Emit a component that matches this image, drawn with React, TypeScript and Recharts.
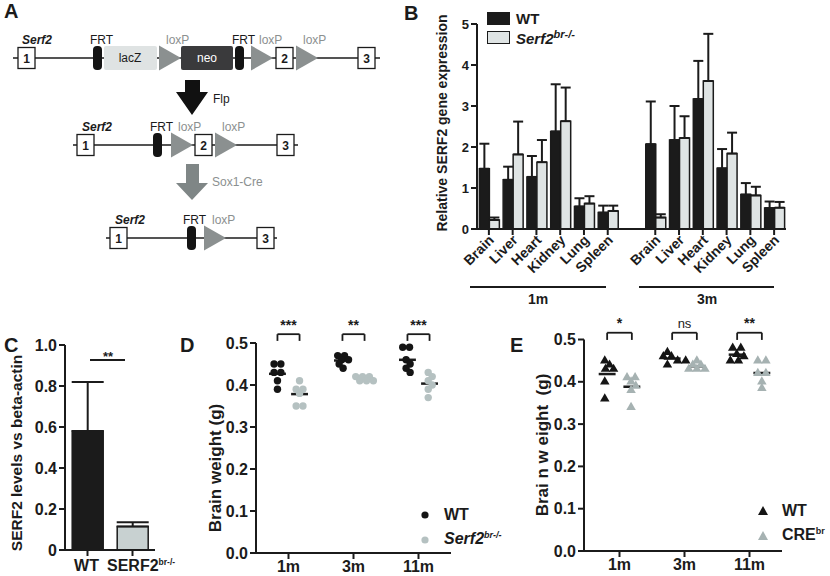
import React from 'react';
import {
  Bar,
  BarChart,
  Cell,
  ErrorBar,
  Legend,
  ReferenceDot,
  ReferenceLine,
  Scatter,
  ScatterChart,
  XAxis,
  YAxis,
} from 'recharts';

const FONT = '"Liberation Sans", Arial, Helvetica, sans-serif';
const INK = '#1b1b1b';
const GREY = '#8b9090';

// ---------- B: relative SERF2 expression per tissue
const tissues = ['Brain', 'Liver', 'Heart', 'Kidney', 'Lung', 'Spleen'];
const exprAges = ['1m', '3m'];
const wtExpr = [
  [1.47, 1.2, 1.27, 2.38, 0.55, 0.4],
  [2.07, 2.17, 3.17, 1.48, 0.84, 0.51],
];
const wtExprTop = [
  [2.08, 1.52, 1.78, 3.53, 0.75, 0.57],
  [3.11, 3.0, 4.1, 1.95, 1.12, 0.67],
];
const koExpr = [
  [0.22, 1.82, 1.63, 2.63, 0.62, 0.44],
  [0.28, 2.22, 3.61, 1.84, 0.82, 0.52],
];
const koExprTop = [
  [0.28, 2.62, 2.17, 3.45, 0.8, 0.57],
  [0.36, 2.75, 4.76, 2.35, 1.03, 0.66],
];
const exprTicks = [0, 1, 2, 3, 4, 5];

// ---------- C: SERF2 / beta-actin
const levelGroups = ['WT', 'SERF2'];
const levelValues = [0.58, 0.115];
const levelTop = [0.82, 0.135];
const levelTicks = [0, 0.2, 0.4, 0.6, 0.8, 1.0];

// ---------- D / E: brain weight
const weightAges = ['1m', '3m', '11m'];
const weightTicks = [0, 0.1, 0.2, 0.3, 0.4, 0.5];
const dWt = [
  [0.45, 0.45, 0.43, 0.43, 0.41, 0.39],
  [0.47, 0.47, 0.46, 0.46, 0.45, 0.44],
  [0.49, 0.49, 0.46, 0.45, 0.44, 0.43],
];
const dKo = [
  [0.41, 0.39, 0.39, 0.38, 0.35, 0.35],
  [0.42, 0.42, 0.42, 0.41, 0.41, 0.41],
  [0.43, 0.42, 0.41, 0.4, 0.39, 0.37],
];
const dStars = ['***', '**', '***'];
const eWt = [
  [0.45, 0.44, 0.43, 0.43, 0.4, 0.36],
  [0.47, 0.46, 0.46, 0.45, 0.45, 0.44],
  [0.48, 0.48, 0.465, 0.46, 0.45, 0.45],
];
const eKo = [
  [0.41, 0.41, 0.4, 0.39, 0.38, 0.34],
  [0.45, 0.44, 0.44, 0.43, 0.43, 0.43],
  [0.45, 0.45, 0.42, 0.42, 0.4, 0.385],
];
const eStars = ['*', 'ns', '**'];

// rows for panel B, with an empty slot between the two ages
const exprRows: any[] = [];
exprAges.forEach((age, a) => {
  if (a > 0) exprRows.push({ key: 'gap', label: '' });
  tissues.forEach((t, i) =>
    exprRows.push({
      key: `${age}-${t}`,
      label: t,
      wt: wtExpr[a][i],
      wtErr: [0, wtExprTop[a][i] - wtExpr[a][i]],
      ko: koExpr[a][i],
      koErr: [0, koExprTop[a][i] - koExpr[a][i]],
    }),
  );
});
const exprLabel: Record<string, string> = {};
exprRows.forEach((r) => (exprLabel[r.key] = r.label));

const levelRows = levelGroups.map((g, i) => ({
  grp: g,
  val: levelValues[i],
  err: [0, levelTop[i] - levelValues[i]],
}));

// simple beeswarm in pixel space: equal values share a centred row,
// rows slide sideways until they no longer overlap too much
function swarm(values: number[], center: number, d: number, pxX: number, pxY: number) {
  const rows = [...new Set(values)].sort((a, b) => b - a);
  const placed: { x: number; y: number }[] = [];
  const gap = d * 0.85;
  rows.forEach((v) => {
    const n = values.filter((w) => w === v).length;
    const base = Array.from({ length: n }, (_, k) => (k - (n - 1) / 2) * gap);
    const yp = v * pxY;
    for (let j = 0; j < 24; j++) {
      const t = j === 0 ? 0 : (j % 2 ? 1 : -1) * Math.ceil(j / 2) * (d / 4);
      const xs = base.map((b) => b + t);
      const ok = xs.every((x) => placed.every((p) => Math.hypot(p.x - x, p.y - yp) >= d * 0.6));
      if (ok || j === 23) {
        xs.forEach((x) => placed.push({ x, y: yp }));
        break;
      }
    }
  });
  const mx = placed.reduce((s, p) => s + p.x, 0) / placed.length;
  return placed.map((p) => ({ x: center + (p.x - mx) / pxX, y: p.y / pxY }));
}
const mean = (v: number[]) => v.reduce((s, x) => s + x, 0) / v.length;

const bold = { fontFamily: FONT, fontWeight: 700, fill: INK } as const;

function OrganTick(props: any) {
  const { x, y, payload } = props;
  const label = exprLabel[payload.value];
  if (!label) return null;
  const ax = x + 6;
  const ay = y + 12;
  return (
    <g>
      <line x1={x} x2={x} y1={y} y2={y + 6} stroke={INK} strokeWidth={2} />
      <text x={ax} y={ay} transform={`rotate(-45 ${ax} ${ay})`} textAnchor="end" fontSize={14} {...bold}>
        {label}
      </text>
    </g>
  );
}

function LevelTick(props: any) {
  const { x, y, payload } = props;
  if (payload.value === 'SERF2') {
    return (
      <text x={x - 25.5} y={y + 13} fontSize={16} {...bold}>
        SERF2
        <tspan dy={-6} fontSize={8.5}>
          br-/-
        </tspan>
      </text>
    );
  }
  return (
    <text x={x - 1} y={y + 13} textAnchor="middle" fontSize={16} {...bold}>
      {payload.value}
    </text>
  );
}

function ExpressionLegend() {
  const items = [
    { fill: INK, name: 'WT', sup: '', italic: false },
    { fill: '#dfe4e4', name: 'Serf2', sup: 'br-/-', italic: true },
  ];
  return (
    <div style={{ fontFamily: FONT, fontWeight: 700, fontSize: 15, color: INK }}>
      {items.map((it) => (
        <div key={it.name} style={{ display: 'flex', alignItems: 'center', height: 19 }}>
          <span
            style={{
              width: 21,
              height: 11,
              background: it.fill,
              border: `1.5px solid ${INK}`,
              marginRight: 6,
            }}
          />
          <span style={{ fontStyle: it.italic ? 'italic' : 'normal' }}>
            {it.name}
            {it.sup && <sup style={{ fontSize: 11 }}>{it.sup}</sup>}
          </span>
        </div>
      ))}
    </div>
  );
}

function ExpressionChart() {
  return (
    <BarChart
      width={410}
      height={330}
      data={exprRows}
      margin={{ top: 24, right: 44, bottom: 0, left: 0 }}
      barCategoryGap="10%"
      barGap={0}
    >
      <XAxis
        dataKey="key"
        interval={0}
        height={101}
        tickSize={0}
        tickMargin={0}
        tickLine={false}
        tick={<OrganTick />}
        axisLine={{ stroke: INK, strokeWidth: 2 }}
      />
      <YAxis
        width={57}
        domain={[0, 5]}
        ticks={exprTicks}
        tickSize={6}
        tickLine={{ stroke: INK, strokeWidth: 2 }}
        axisLine={{ stroke: INK, strokeWidth: 2 }}
        tick={{ fontSize: 13, ...bold }}
      />
      <Legend
        content={() => <ExpressionLegend />}
        layout="horizontal"
        verticalAlign="middle"
        align="center"
        wrapperStyle={{ left: 67, top: 9, width: 'auto' }}
      />
      <Bar dataKey="wt" fill={INK} stroke={INK} strokeWidth={1.5} isAnimationActive={false}>
        <ErrorBar dataKey="wtErr" width={5} stroke={INK} strokeWidth={2} isAnimationActive={false} />
      </Bar>
      <Bar dataKey="ko" fill="#dfe4e4" stroke={INK} strokeWidth={1.5} isAnimationActive={false}>
        <ErrorBar dataKey="koErr" width={5} stroke={INK} strokeWidth={2} isAnimationActive={false} />
      </Bar>
    </BarChart>
  );
}

function LevelChart() {
  const fills = [INK, '#c8d1d1'];
  return (
    <BarChart
      width={200}
      height={246}
      data={levelRows}
      margin={{ top: 15, right: 45, bottom: 0, left: 0 }}
      barCategoryGap="16%"
    >
      <XAxis
        dataKey="grp"
        height={26}
        interval={0}
        tickSize={6}
        tickLine={{ stroke: INK, strokeWidth: 2 }}
        axisLine={{ stroke: INK, strokeWidth: 2 }}
        tick={<LevelTick />}
      />
      <YAxis
        width={65}
        domain={[0, 1]}
        ticks={levelTicks}
        tickFormatter={(v: number) => (v === 0 ? '0' : v.toFixed(1))}
        tickSize={6}
        tickLine={{ stroke: INK, strokeWidth: 2 }}
        axisLine={{ stroke: INK, strokeWidth: 2 }}
        tick={{ fontSize: 16, ...bold }}
      />
      <Bar dataKey="val" stroke={INK} strokeWidth={1.5} isAnimationActive={false}>
        {levelRows.map((r, i) => (
          <Cell key={r.grp} fill={fills[i]} />
        ))}
        <ErrorBar dataKey="err" width={16} stroke={INK} strokeWidth={2} isAnimationActive={false} />
      </Bar>
    </BarChart>
  );
}

type Series = { name: string; sup: string; italic: boolean; color: string };

function WeightLegend({ series, marker }: { series: Series[]; marker: 'dot' | 'tri' }) {
  return (
    <div style={{ fontFamily: FONT, fontWeight: 700, fontSize: 16, color: INK }}>
      {series.map((s) => (
        <div key={s.name} style={{ display: 'flex', alignItems: 'center', height: 25 }}>
          <svg width={22} height={12} style={{ marginRight: 3 }}>
            {marker === 'dot' ? (
              <circle cx={6} cy={6} r={3.6} fill={s.color} />
            ) : (
              <polygon points="6,1 11,10 1,10" fill={s.color} />
            )}
          </svg>
          <span style={{ fontStyle: s.italic ? 'italic' : 'normal' }}>
            {s.name}
            {s.sup && <sup style={{ fontSize: 9 }}>{s.sup}</sup>}
          </span>
        </div>
      ))}
    </div>
  );
}

function WeightChart(props: {
  wt: number[][];
  ko: number[][];
  stars: string[];
  series: Series[];
  marker: 'dot' | 'tri';
  shift: number;
  dot: number;
  width: number;
  axisW: number;
  top: number;
  bottom: number;
  padLeft: number;
  legendPos: { left: number; top: number };
  bracket: [number, number];
}) {
  const { wt, ko, stars, series, marker, shift, dot, width, axisW, top, bottom, padLeft, legendPos, bracket } = props;
  const plotW = 195;
  const pxX = plotW / 3;
  const pxY = (266 - top - bottom) / 0.5;
  const centers = weightAges.map((_, i) => i + 0.5);
  const wtPts = centers.flatMap((c, i) => swarm(wt[i], c - shift, dot, pxX, pxY));
  const koPts = centers.flatMap((c, i) => swarm(ko[i], c + shift, dot, pxX, pxY));
  const shape = (p: any) => {
    if (marker === 'dot') return <circle cx={p.cx} cy={p.cy} r={3.7} fill={p.fill} />;
    const s = 9.5;
    const h = s * 0.866;
    return (
      <polygon
        points={`${p.cx},${p.cy - (h * 2) / 3} ${p.cx - s / 2},${p.cy + h / 3} ${p.cx + s / 2},${p.cy + h / 3}`}
        fill={p.fill}
      />
    );
  };
  const lines: { a: { x: number; y: number }; b: { x: number; y: number }; w: number }[] = [];
  centers.forEach((c, i) => {
    const mw = mean(wt[i]);
    const mk = mean(ko[i]);
    lines.push({ a: { x: c - shift - 0.13, y: mw }, b: { x: c - shift + 0.13, y: mw }, w: 2.5 });
    lines.push({ a: { x: c + shift - 0.13, y: mk }, b: { x: c + shift + 0.13, y: mk }, w: 2.5 });
    const [yTop, yLeg] = bracket;
    const l = c - shift;
    const r = c + shift;
    lines.push({ a: { x: l, y: yTop }, b: { x: r, y: yTop }, w: 1.8 });
    lines.push({ a: { x: l, y: yTop }, b: { x: l, y: yLeg }, w: 1.8 });
    lines.push({ a: { x: r, y: yTop }, b: { x: r, y: yLeg }, w: 1.8 });
  });
  return (
    <ScatterChart width={width} height={266} margin={{ top, right: width - axisW - plotW - padLeft, bottom: 0, left: 0 }}>
      <XAxis
        type="number"
        dataKey="x"
        domain={[0, 3]}
        ticks={centers}
        padding={{ left: padLeft, right: 0 }}
        tickFormatter={(v: number) => weightAges[Math.floor(v)]}
        height={bottom}
        tickSize={6}
        tickLine={{ stroke: INK, strokeWidth: 2 }}
        axisLine={{ stroke: INK, strokeWidth: 2 }}
        tick={{ fontSize: 16, ...bold }}
      />
      <YAxis
        type="number"
        dataKey="y"
        width={axisW}
        domain={[0, 0.5]}
        ticks={weightTicks}
        tickFormatter={(v: number) => v.toFixed(1)}
        tickSize={6}
        tickLine={{ stroke: INK, strokeWidth: 2 }}
        axisLine={{ stroke: INK, strokeWidth: 2 }}
        tick={{ fontSize: 16, ...bold }}
      />
      <Legend
        content={() => <WeightLegend series={series} marker={marker} />}
        layout="horizontal"
        verticalAlign="middle"
        align="center"
        wrapperStyle={{ left: legendPos.left, top: legendPos.top, width: 'auto' }}
      />
      <Scatter data={wtPts} fill={series[0].color} shape={shape} isAnimationActive={false} />
      <Scatter data={koPts} fill={series[1].color} shape={shape} isAnimationActive={false} />
      {lines.map((ln, i) => (
        <ReferenceLine key={i} segment={[ln.a, ln.b]} stroke={INK} strokeWidth={ln.w} ifOverflow="visible" />
      ))}
      {centers.map((c, i) => (
        <ReferenceDot
          key={`s${i}`}
          x={c}
          y={bracket[0] + 0.022}
          r={0}
          fill="none"
          stroke="none"
          ifOverflow="visible"
          label={{
            value: stars[i],
            position: 'center',
            fill: INK,
            fontSize: stars[i] === 'ns' ? 13 : 14,
            fontWeight: stars[i] === 'ns' ? 400 : 700,
            fontFamily: FONT,
          }}
        />
      ))}
    </ScatterChart>
  );
}

// ---------- A: targeting scheme (plain drawing)
function Exon({ x, y, n }: { x: number; y: number; n: string }) {
  return (
    <g>
      <rect x={x} y={y - 10.5} width={17} height={21} fill="#fff" stroke={INK} strokeWidth={1.3} />
      <text x={x + 8.5} y={y + 4.5} textAnchor="middle" fontSize={12} fontWeight={700}>
        {n}
      </text>
    </g>
  );
}
const Frt = ({ x, y }: { x: number; y: number }) => (
  <rect x={x} y={y - 12} width={9} height={24} rx={4} fill="#141414" />
);
const Lox = ({ x, y }: { x: number; y: number }) => (
  <polygon points={`${x},${y - 12.5} ${x + 22},${y} ${x},${y + 12.5}`} fill={GREY} />
);
const Tag = ({ x, y, t, grey }: { x: number; y: number; t: string; grey?: boolean }) => (
  <text x={x} y={y} fontSize={12} fill={grey ? GREY : INK}>
    {t}
  </text>
);
const Gene = ({ x, y }: { x: number; y: number }) => (
  <text x={x} y={y} fontSize={12} fontWeight={700} fontStyle="italic">
    Serf2
  </text>
);

function Scheme() {
  return (
    <svg width={420} height={300} style={{ position: 'absolute', left: 0, top: 0 }} fontFamily={FONT} fill={INK}>
      {/* row 1 */}
      <line x1={13} x2={380} y1={58} y2={58} stroke={INK} strokeWidth={1.3} />
      <Gene x={22} y={44} />
      <Exon x={18} y={58} n="1" />
      <Tag x={90} y={44} t="FRT" />
      <Frt x={93} y={58} />
      <rect x={104} y={46} width={53} height={24} rx={2} fill="#dfe3e3" />
      <text x={130} y={62} textAnchor="middle" fontSize={12}>
        lacZ
      </text>
      <Tag x={166} y={44} t="loxP" grey />
      <Lox x={159} y={58} />
      <rect x={181} y={46} width={52} height={24} rx={2} fill="#3a3a3c" />
      <text x={207} y={62} textAnchor="middle" fontSize={12} fill="#fff">
        neo
      </text>
      <Tag x={232} y={44} t="FRT" />
      <Frt x={235} y={58} />
      <Tag x={259} y={44} t="loxP" grey />
      <Lox x={251} y={58} />
      <Exon x={276} y={58} n="2" />
      <Tag x={303} y={44} t="loxP" grey />
      <Lox x={296} y={58} />
      <Exon x={358} y={58} n="3" />
      {/* Flp arrow */}
      <polygon points="185,80 200,80 200,92 208,92 192,115 176,92 185,92" fill="#111" />
      <text x={213} y={103} fontSize={12}>
        Flp
      </text>
      {/* row 2 */}
      <line x1={73} x2={298} y1={145} y2={145} stroke={INK} strokeWidth={1.3} />
      <Gene x={82} y={131} />
      <Exon x={77} y={145} n="1" />
      <Tag x={150} y={131} t="FRT" />
      <Frt x={153} y={145} />
      <Tag x={178} y={131} t="loxP" grey />
      <Lox x={171} y={145} />
      <Exon x={195} y={145} n="2" />
      <Tag x={222} y={131} t="loxP" grey />
      <Lox x={215} y={145} />
      <Exon x={277} y={145} n="3" />
      {/* Cre arrow */}
      <polygon points="186,164 199,164 199,183 208,183 192,200 176,183 186,183" fill="#7f8686" />
      <text x={212} y={186} fontSize={12} fill={GREY}>
        Sox1-Cre
      </text>
      {/* row 3 */}
      <line x1={106} x2={277} y1={238} y2={238} stroke={INK} strokeWidth={1.3} />
      <Gene x={115} y={224} />
      <Exon x={110} y={238} n="1" />
      <Tag x={183} y={224} t="FRT" />
      <Frt x={187} y={238} />
      <Tag x={212} y={224} t="loxP" grey />
      <Lox x={204} y={238} />
      <Exon x={257} y={238} n="3" />
    </svg>
  );
}

function Overlay() {
  const rot = (x: number, y: number) => `rotate(-90 ${x} ${y})`;
  return (
    <svg
      width={830}
      height={576}
      style={{ position: 'absolute', left: 0, top: 0, pointerEvents: 'none' }}
      fontFamily={FONT}
      fill={INK}
    >
      <g fontSize={20} fontWeight={700}>
        <text x={4} y={18}>A</text>
        <text x={404} y={20}>B</text>
        <text x={4} y={352}>C</text>
        <text x={180} y={352}>D</text>
        <text x={510} y={352}>E</text>
      </g>
      <text x={442} y={123} transform={rot(442, 123)} textAnchor="middle" dominantBaseline="central" fontSize={14} fontWeight={700}>
        Relative SERF2 gene expression
      </text>
      <line x1={470} x2={606} y1={287} y2={287} stroke={INK} strokeWidth={2} />
      <line x1={639} x2={774} y1={287} y2={287} stroke={INK} strokeWidth={2} />
      <text x={538} y={304} textAnchor="middle" fontSize={14} fontWeight={700}>1m</text>
      <text x={707} y={304} textAnchor="middle" fontSize={14} fontWeight={700}>3m</text>
      <text x={16} y={453} transform={rot(16, 453)} textAnchor="middle" dominantBaseline="central" fontSize={15.5} fontWeight={700}>
        SERF2 levels vs beta-actin
      </text>
      <line x1={90} x2={125} y1={360} y2={360} stroke={INK} strokeWidth={1.8} />
      <text x={108} y={361} textAnchor="middle" fontSize={13} fontWeight={700}>**</text>
      <text x={215} y={468} transform={rot(215, 468)} textAnchor="middle" dominantBaseline="central" fontSize={17} fontWeight={700}>
        Brain weight (g)
      </text>
      <text x={542} y={445} transform={rot(542, 445)} textAnchor="middle" dominantBaseline="central" fontSize={17} fontWeight={700} style={{ whiteSpace: 'pre' }}>
        {'Brai n w eight  (g)'}
      </text>
    </svg>
  );
}

const dSeries: Series[] = [
  { name: 'WT', sup: '', italic: false, color: '#151515' },
  { name: 'Serf2', sup: 'br-/-', italic: true, color: '#b5c1c1' },
];
const eSeries: Series[] = [
  { name: 'WT', sup: '', italic: false, color: '#151515' },
  { name: 'CRE', sup: 'br', italic: false, color: '#a6b2b2' },
];

export default function App() {
  return (
    <div
      style={{
        position: 'absolute',
        left: 0,
        top: 0,
        width: 830,
        height: 576,
        background: '#fff',
        overflow: 'hidden',
        fontFamily: FONT,
      }}
    >
      <Scheme />
      <div style={{ position: 'absolute', left: 420, top: 0 }}>
        <ExpressionChart />
      </div>
      <div style={{ position: 'absolute', left: 0, top: 330 }}>
        <LevelChart />
      </div>
      <div style={{ position: 'absolute', left: 190, top: 310 }}>
        <WeightChart
          wt={dWt}
          ko={dKo}
          stars={dStars}
          series={dSeries}
          marker="dot"
          shift={0.17}
          dot={8}
          width={330}
          axisW={66}
          top={33}
          bottom={23}
          padLeft={0}
          legendPos={{ left: 229, top: 192 }}
          bracket={[0.521, 0.505]}
        />
      </div>
      <div style={{ position: 'absolute', left: 500, top: 310 }}>
        <WeightChart
          wt={eWt}
          ko={eKo}
          stars={eStars}
          series={eSeries}
          marker="tri"
          shift={0.19}
          dot={9.5}
          width={330}
          axisW={84}
          top={29.5}
          bottom={25}
          padLeft={3}
          legendPos={{ left: 257, top: 188 }}
          bracket={[0.516, 0.499]}
        />
      </div>
      <Overlay />
    </div>
  );
}
